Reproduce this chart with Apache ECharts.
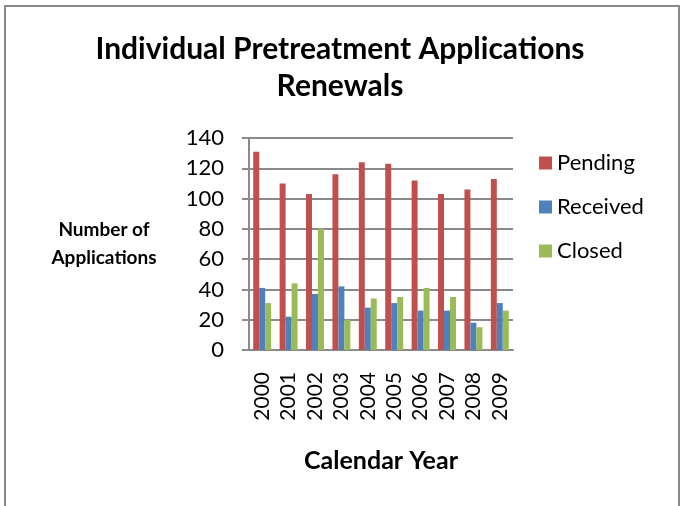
<!DOCTYPE html>
<html>
<head>
<meta charset="utf-8">
<script src="https://cdn.jsdelivr.net/npm/echarts@6/dist/echarts.min.js"></script>
<style>
  html, body { margin: 0; padding: 0; background: #fff; }
  #chart { width: 680px; height: 506px; }
</style>
</head>
<body>
<div id="chart"></div>
<script>
// 数据
var years = ['2000', '2001', '2002', '2003', '2004', '2005', '2006', '2007', '2008', '2009'];
var pendingApps = [131, 110, 103, 116, 124, 123, 112, 103, 106, 113];
var receivedApps = [41, 22, 37, 42, 28, 31, 26, 26, 18, 31];
var closedApps = [31, 44, 80, 20, 34, 35, 41, 35, 15, 26];
var yTicks = [0, 20, 40, 60, 80, 100, 120, 140];

var font = 'Lato, "Open Sans", sans-serif';
var myChart = echarts.init(document.getElementById('chart'));

myChart.setOption({
	animation: false,
	textStyle: { fontFamily: font },
	color: ['#C0504D', '#4F81BD', '#9BBB59'],
	graphic: [{
		type: 'rect',
		shape: { x: 5, y: 6, width: 674, height: 520 },
		style: { fill: 'none', stroke: '#8a8a8a', lineWidth: 2 },
		silent: true
	}],
	title: {
		text: 'Individual Pretreatment Applications\nRenewals',
		left: 'center',
		top: 26,
		textStyle: { fontSize: 30, fontWeight: 'bold', color: '#000', lineHeight: 37, fontFamily: font }
	},
	legend: {
		orient: 'vertical',
		left: 534,
		top: 147,
		icon: 'rect',
		itemWidth: 13,
		itemHeight: 13,
		itemGap: 22,
		textStyle: { fontSize: 22, color: '#000', fontFamily: font },
		data: ['Pending', 'Received', 'Closed']
	},
	grid: { left: 249, right: 167, top: 138, bottom: 156, containLabel: false },
	xAxis: {
		type: 'category',
		data: years,
		name: 'Calendar Year',
		nameLocation: 'middle',
		nameGap: 98,
		nameTextStyle: { fontSize: 25, fontWeight: 'bold', color: '#000', fontFamily: font },
		axisLine: { lineStyle: { color: '#8a8a8a', width: 2 } },
		axisTick: { show: false },
		axisLabel: { interval: 0, rotate: 90, margin: 22, fontSize: 21, color: '#000', fontFamily: font }
	},
	yAxis: {
		type: 'value',
		min: 0,
		max: 140,
		interval: 20,
		name: 'Number of\nApplications',
		nameLocation: 'middle',
		nameRotate: 0,
		nameGap: 145,
		nameTextStyle: { fontSize: 19, fontWeight: 'bold', color: '#000', align: 'center', lineHeight: 28, fontFamily: font },
		axisLine: { show: true, lineStyle: { color: '#8a8a8a', width: 2 } },
		axisTick: { show: true, inside: false, length: 7, lineStyle: { color: '#8a8a8a', width: 2 } },
		axisLabel: {
			margin: 25, fontSize: 22, color: '#000', fontFamily: font,
			formatter: function (v) { return yTicks.indexOf(v) >= 0 ? String(v) : ''; }
		},
		splitLine: { lineStyle: { color: '#8a8a8a', width: 2 } }
	},
	series: [
		{ name: 'Pending', type: 'bar', data: pendingApps, barGap: '0%', barCategoryGap: '32%' },
		{ name: 'Received', type: 'bar', data: receivedApps, barGap: '0%', barCategoryGap: '32%' },
		{ name: 'Closed', type: 'bar', data: closedApps, barGap: '0%', barCategoryGap: '32%' }
	]
});
</script>
</body>
</html>
